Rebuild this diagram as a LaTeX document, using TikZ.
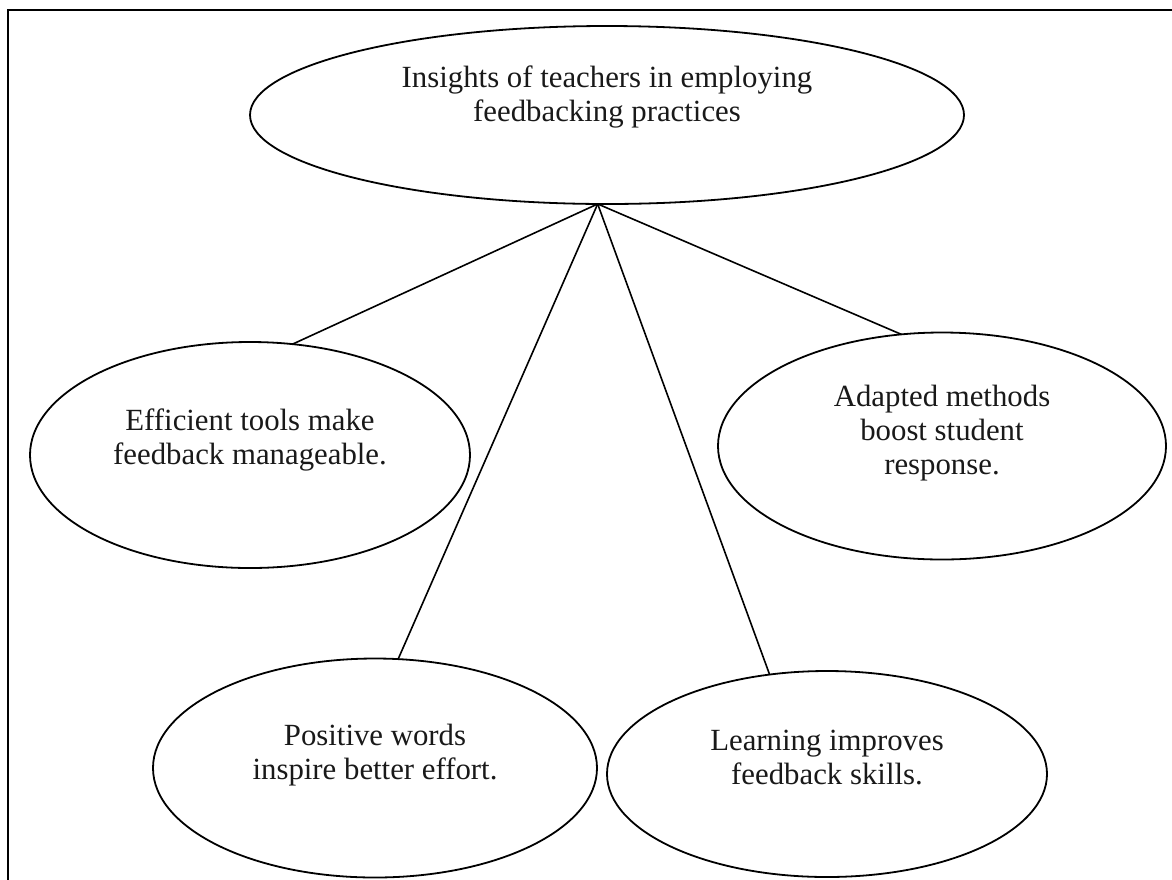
\documentclass[tikz,border=0pt]{standalone}
\usepackage{fontspec}
\setmainfont{Liberation Serif}
\usetikzlibrary{shapes.geometric}
\begin{document}
\begin{tikzpicture}[x=0.5pt,y=-0.5pt,
  bubble/.style={ellipse,draw=black,line width=0.9pt,inner sep=0pt,outer sep=0pt},
  caption/.style={align=center,font=\fontsize{15.4pt}{17pt}\selectfont,text=black!90},
  link/.style={draw=black,line width=0.8pt}]
  \clip (0,0) rectangle (1172,879);
  \useasboundingbox (0,0) rectangle (1172,879);
  % outer frame (runs past the right and bottom edges)
  \draw[line width=1pt] (7.5,10) rectangle (1200,900);

  % ellipses
  \node[bubble,minimum width=357pt,minimum height=89pt] (top) at (607,115) {};
  \node[bubble,minimum width=220pt,minimum height=113pt] (tools) at (250,455) {};
  \node[bubble,minimum width=224pt,minimum height=113.5pt] (adapt) at (942,446) {};
  \node[bubble,minimum width=222pt,minimum height=109.5pt] (words) at (375,768) {};
  \node[bubble,minimum width=220pt,minimum height=103pt] (learn) at (827,774) {};

  % captions
  \node[caption] (topT) at (607,97) {Insights of teachers in employing\\feedbacking practices};
  \node[caption] (toolsT) at (250,440) {Efficient tools make\\feedback manageable.};
  \node[caption] (adaptT) at (942,433) {Adapted methods\\boost student\\response.};
  \node[caption] (wordsT) at (375,755) {Positive words\\inspire better effort.};
  \node[caption] (learnT) at (827,758) {Learning improves\\feedback skills.};

  % connectors from the hub under the top ellipse
  \coordinate (hub) at (top.264);
  \draw[link] (hub) -- (tools.69.3);
  \draw[link] (hub) -- (words.78.6);
  \draw[link] (hub) -- (learn.120.5);
  \draw[link] (hub) -- (adapt.110.4);
\end{tikzpicture}
\end{document}
